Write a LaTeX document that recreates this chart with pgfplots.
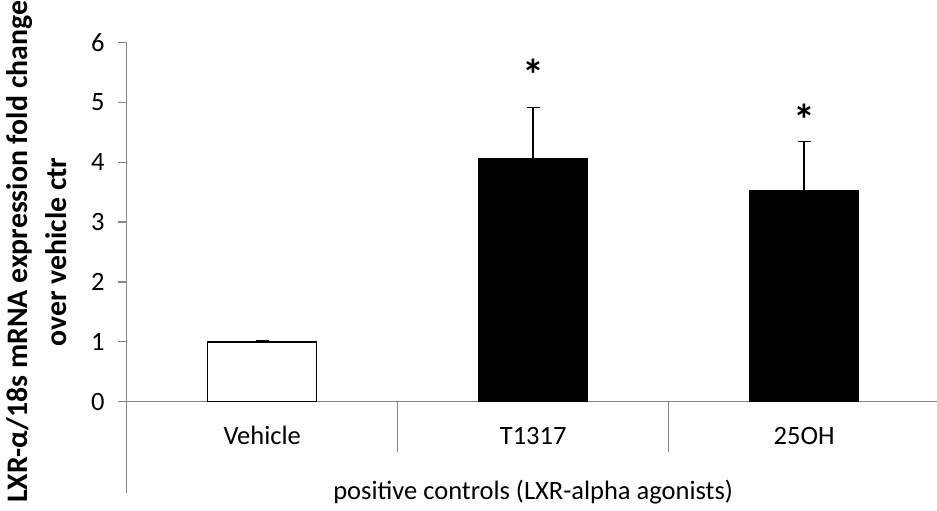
\documentclass[border=0pt]{standalone}
\usepackage{fontspec}
\setmainfont{Carlito}
\usepackage{pgfplots}
\pgfplotsset{compat=1.18}
\definecolor{axgray}{RGB}{134,134,134}
\begin{document}
\begin{tikzpicture}
\begin{axis}[
  scale only axis,
  width=813bp, height=359.4bp,
  xmin=-0.5, xmax=2.5, ymin=0, ymax=6,
  axis x line*=bottom, axis y line*=left,
  axis line style={draw=axgray, line width=1.2bp},
  ytick={0,1,2,3,4,5,6},
  yticklabels={0,1,2,3,4,5,6},
  tick align=outside,
  major tick length=8.7bp,
  ytick style={draw=axgray, line width=1.2bp},
  xtick={0,1,2},
  xticklabels={Vehicle,T1317,25OH},
  x tick style={draw=none},
  tick label style={font=\fontsize{26.5bp}{32bp}\selectfont},
  yticklabel style={anchor=east, xshift=-10bp, font=\fontsize{26.5bp}{32bp}\selectfont},
  xticklabel style={anchor=base, yshift=-34bp},
  ylabel={LXR-α/18s mRNA expression fold change\\over vehicle ctr},
  ylabel style={at={(axis description cs:-0.111,0.4165)}, anchor=center,
    align=center, font=\fontsize{29.8bp}{39bp}\selectfont\bfseries},
  clip=false,
  ybar, bar shift=0pt, bar width=109bp,
]
\addplot[fill=white, draw=black, line width=1.5bp,
  error bars/.cd, y dir=plus, y explicit,
  error bar style={line width=1.5bp, black},
  error mark options={rotate=90, mark size=6.5bp, line width=1.5bp, black}]
  coordinates {(0,1.0) +- (0,0.01)};
\addplot[fill=black, draw=black, line width=0.8bp,
  error bars/.cd, y dir=plus, y explicit,
  error bar style={line width=1.5bp, black},
  error mark options={rotate=90, mark size=6.5bp, line width=1.5bp, black}]
  coordinates {(1,4.06) +- (0,0.855) (2,3.52) +- (0,0.82)};
\node[font=\fontsize{44bp}{50bp}\selectfont\bfseries] at (axis cs:1,5.45) {*};
\node[font=\fontsize{44bp}{50bp}\selectfont\bfseries] at (axis cs:2,4.70) {*};
\draw[axgray, line width=1.2bp] (axis cs:-0.5,0) -- ([yshift=-91.3bp]axis cs:-0.5,0);
\draw[axgray, line width=1.2bp] (axis cs:0.5,0) -- ([yshift=-50bp]axis cs:0.5,0);
\draw[axgray, line width=1.2bp] (axis cs:1.5,0) -- ([yshift=-50bp]axis cs:1.5,0);
\node[anchor=base, font=\fontsize{26.5bp}{32bp}\selectfont] at ([yshift=-97.3bp]axis cs:1,0) {positive controls (LXR-alpha agonists)};
\end{axis}
\pgfresetboundingbox
\path (-126.7bp,-109.3bp) rectangle (810.3bp,401.7bp);
\end{tikzpicture}
\end{document}
